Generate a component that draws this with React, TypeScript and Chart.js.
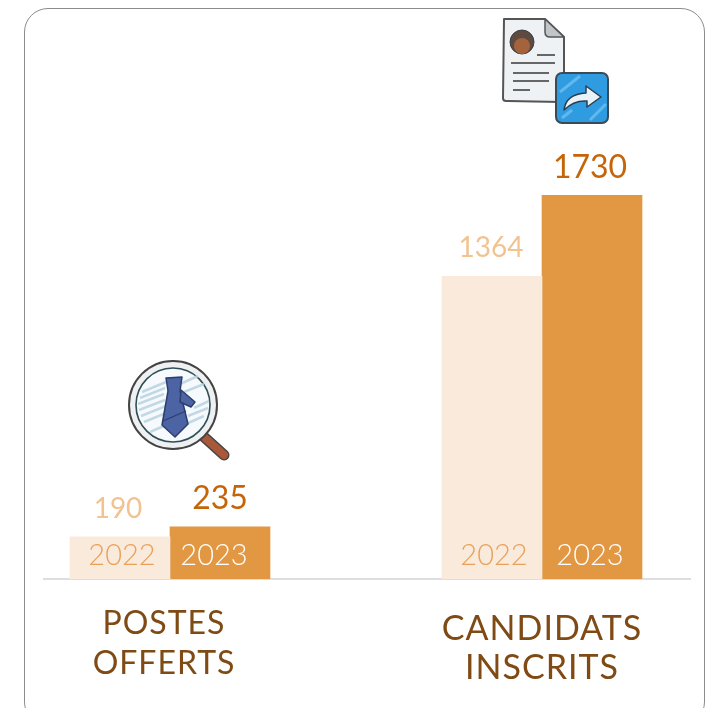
import React, { useEffect, useRef } from "react";
import { Chart, registerables } from "chart.js";

Chart.register(...registerables);

const categories = [["POSTES", "OFFERTS"], ["CANDIDATS", "INSCRITS"]];
const years = ["2022", "2023"];
const values2022 = [190, 1364];
const values2023 = [235, 1730];

const LIGHT = "#FAEADB";
const DARK = "#E29743";
const FONT = "Lato, sans-serif";

// label nudges relative to each bar, as seen in the picture
const valueStyle = [
  { color: "#F1C391", size: [28, 28] },
  { color: "#C56508", size: [32, 32] },
];
const valueDx = [[-2, -1], [0, -2]];
const yearStyle = ["#E8A15A", "#FFFFFF"];
const yearDx = [[2, 2], [-6, -2]];
const catDx = [-6, 0];
const catY = [[624, 664], [629, 668]];
const catSize = [32, 34];

const labelPlugin = {
  id: "labels",
  afterDatasetsDraw(chart: any) {
    const ctx = chart.ctx;
    const base = chart.scales.y.getPixelForValue(0);
    ctx.save();
    ctx.textAlign = "center";
    ctx.textBaseline = "middle";
    chart.data.datasets.forEach((ds: any, d: number) => {
      chart.getDatasetMeta(d).data.forEach((bar: any, i: number) => {
        const st = valueStyle[d];
        ctx.fillStyle = st.color;
        ctx.font = `400 ${st.size[i]}px ${FONT}`;
        ctx.fillText(String(ds.data[i].y), bar.x + valueDx[d][i], bar.y - 28);
        ctx.fillStyle = yearStyle[d];
        ctx.font = `300 29px ${FONT}`;
        ctx.fillText(ds.label, bar.x + yearDx[d][i], base - 23);
      });
    });
    ctx.fillStyle = "#7F4A14";
    (ctx as any).letterSpacing = "1px";
    categories.forEach((lines, i) => {
      ctx.font = `400 ${catSize[i]}px ${FONT}`;
      const x = chart.scales.x.getPixelForValue(i) + catDx[i];
      lines.forEach((t, j) => ctx.fillText(t, x, catY[i][j]));
    });
    ctx.restore();
  },
};

function Magnifier() {
  const hatch = [
    [142, 392, 166, 382], [140, 398, 165, 388], [138, 404, 164, 394], [139, 410, 165, 400], [141, 416, 166, 406], [144, 422, 166, 413],
    [180, 384, 198, 376], [184, 392, 204, 384], [194, 408, 209, 401], [188, 416, 208, 408], [186, 424, 204, 416], [150, 432, 166, 425],
  ];
  return (
    <svg width="709" height="708" style={{ position: "absolute", left: 0, top: 0, pointerEvents: "none" }} aria-hidden="true">
      <line x1="203" y1="436" x2="224" y2="455" stroke="#444" strokeWidth="11" strokeLinecap="round" />
      <line x1="203" y1="436" x2="224" y2="455" stroke="#A9583A" strokeWidth="8" strokeLinecap="round" />
      <circle cx="173" cy="405" r="44" fill="#EEF0F2" stroke="#444" strokeWidth="2" />
      <circle cx="173" cy="405" r="37" fill="#F7FAFC" stroke="#2F4F55" strokeWidth="1.6" />
      {hatch.map((h, i) => (
        <line key={i} x1={h[0]} y1={h[1]} x2={h[2]} y2={h[3]} stroke="#BAD3E2" strokeWidth="2.5" opacity="0.85" />
      ))}
      <path d="M166 378 L182 377 L180 391 L188 424 L175 437 L162 425 L168 391 Z" fill="#4C64A4" stroke="#2B3E6E" strokeWidth="1.5" strokeLinejoin="round" />
      <path d="M181 390 L195 402 L191 407 L180 402 Z" fill="#4C64A4" stroke="#2B3E6E" strokeWidth="1.5" strokeLinejoin="round" />
      <path d="M163 421 L186 411" stroke="#2B3E6E" strokeWidth="1.2" />
    </svg>
  );
}

function Resume() {
  return (
    <svg width="709" height="708" style={{ position: "absolute", left: 0, top: 0, pointerEvents: "none" }} aria-hidden="true">
      <path d="M504 19 L545 19 L564 37 L564 99 Q564 102 561 102 L506 101 Q503 101 503 98 Z" fill="#EEF2F5" stroke="#555" strokeWidth="2" strokeLinejoin="round" />
      <path d="M545 19 L564 37 L550 37 Q545 37 545 32 Z" fill="#BFC5C9" stroke="#555" strokeWidth="1.5" strokeLinejoin="round" />
      <circle cx="522" cy="42" r="12" fill="#5D4A40" stroke="#3F3F3F" strokeWidth="1" />
      <ellipse cx="522" cy="46" rx="8" ry="8" fill="#A5633C" />
      <g stroke="#666" strokeWidth="2">
        <line x1="537" y1="55" x2="555" y2="55" />
        <line x1="511" y1="63" x2="555" y2="63" />
        <line x1="513" y1="73" x2="549" y2="73" />
        <line x1="513" y1="81" x2="549" y2="81" />
        <line x1="513" y1="90" x2="530" y2="90" />
      </g>
      <rect x="556" y="73" width="52" height="50" rx="6" fill="#2F9BE0" stroke="#3C4A55" strokeWidth="2" />
      <g stroke="#6EC0F0" strokeWidth="3" opacity="0.8">
        <line x1="560" y1="92" x2="580" y2="76" />
        <line x1="590" y1="120" x2="606" y2="104" />
        <line x1="562" y1="118" x2="572" y2="110" />
      </g>
      <path d="M564 110 Q566 94 586 93 L586 86 L601 97 L587 107 L587 101 Q574 100 564 110 Z" fill="#E8F2F8" stroke="#2B3F4F" strokeWidth="1.5" strokeLinejoin="round" />
    </svg>
  );
}

export default function App() {
  const ref = useRef<HTMLCanvasElement>(null);
  useEffect(() => {
    const chart = new Chart(ref.current as HTMLCanvasElement, {
      type: "bar",
      data: {
        datasets: [
          { label: years[0], data: values2022.map((y, x) => ({ x, y })), backgroundColor: LIGHT, barThickness: 100 } as any,
          { label: years[1], data: values2023.map((y, x) => ({ x, y })), backgroundColor: DARK, barThickness: 100 } as any,
        ],
      },
      options: {
        animation: false,
        responsive: false,
        layout: { padding: { left: 44, right: 19, top: 20, bottom: 121 } },
        plugins: { legend: { display: false }, tooltip: { enabled: false } },
        scales: {
          x: {
            type: "linear",
            offset: false,
            min: -0.3387,
            max: 1.3978,
            grid: { display: false },
            ticks: { display: false },
            border: { color: "#DEDEE2", width: 2 },
          },
          y: { display: false, min: 0, max: 2520 },
        },
      },
      plugins: [labelPlugin],
    } as any);
    return () => chart.destroy();
  }, []);
  return (
    <div style={{ position: "fixed", left: 0, top: 0, width: 709, height: 708, overflow: "hidden", background: "#fff" }}>
      <div style={{ position: "absolute", left: 24, top: 8, width: 679, height: 716, border: "1px solid #8C8C8C", borderRadius: 24, boxSizing: "content-box" }} />
      <canvas ref={ref} width={709} height={708} style={{ position: "absolute", left: 0, top: 0, display: "block" }} />
      <Magnifier />
      <Resume />
    </div>
  );
}
